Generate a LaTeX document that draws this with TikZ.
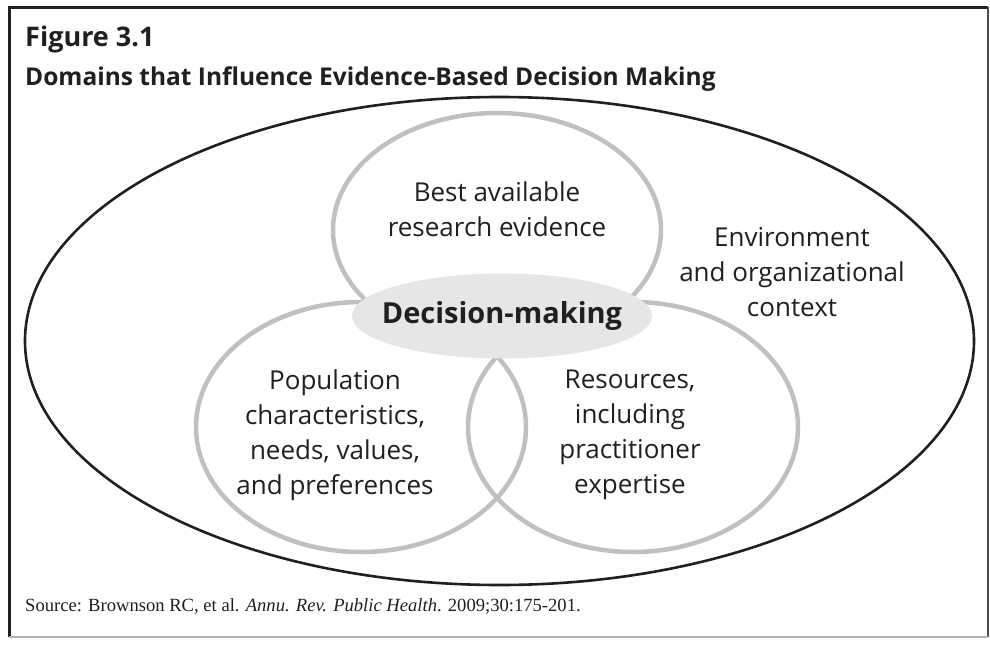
\documentclass[tikz,border=0pt]{standalone}
\usepackage{fontspec}
\setmainfont{Open Sans}
\newfontfamily\srcfont{Liberation Serif}
\definecolor{ringgray}{HTML}{BFC0C4}
\definecolor{corefill}{HTML}{E6E6E8}
\definecolor{inkdark}{HTML}{231F20}
\begin{document}
\begin{tikzpicture}[x=1pt,y=-1pt,
  ringline/.style={draw=ringgray,line width=4.5pt},
  domtext/.style={align=center,text=inkdark,font=\fontsize{26}{35}\selectfont},
  core/.style={inner sep=0pt,text=inkdark,font=\bfseries\fontsize{29}{35}\selectfont}]
\useasboundingbox (0,0) rectangle (990,645);
\fill[white] (0,0) rectangle (990,645);
% frame
\draw[line width=3pt,inkdark] (9,637) -- (9,7) -- (988,7);
\draw[line width=2pt,black!70] (988,7) -- (988,637);
\draw[line width=1.5pt,black!30] (9,637) -- (988,637);
% heading
\node[anchor=base west,inner sep=0pt,text=inkdark,font=\bfseries\fontsize{27}{30}\selectfont] (fig) at (25,46) {Figure 3.1};
\node[anchor=base west,inner sep=0pt,text=inkdark,font=\bfseries\fontsize{24.5}{28}\selectfont] (ttl) at (25,85) {Domains that Influence Evidence-Based Decision Making};
% outer context ellipse
\draw[line width=2.6pt,inkdark] (499.5,341) ellipse [x radius=474.5, y radius=244];
% three domains
\draw[ringline] (497,230) ellipse [x radius=164, y radius=117];
\draw[ringline] (361,427) ellipse [x radius=165, y radius=125];
\draw[ringline] (633,427) ellipse [x radius=165, y radius=125];
% centre
\fill[corefill] (502,316) ellipse [x radius=150, y radius=42.5];
\node[core] (dm) at (502,316) {Decision-making};
% labels
\node[domtext] (ev) at (497,209) {Best available\\research evidence};
\node[domtext] (env) at (792,272) {Environment\\and organizational\\context};
\node[domtext] (pop) at (335,435) {Population\\characteristics,\\needs, values,\\and preferences};
\node[domtext] (res) at (630,435) {Resources,\\including\\practitioner\\expertise};
% source line
\node[anchor=base west,inner sep=0pt,text=inkdark,font=\srcfont\fontsize{18.6}{22}\selectfont] (src) at (25,611)
  {Source: Brownson RC, et al. \textit{Annu. Rev. Public Health}. 2009;30:175-201.};
\end{tikzpicture}
\end{document}
